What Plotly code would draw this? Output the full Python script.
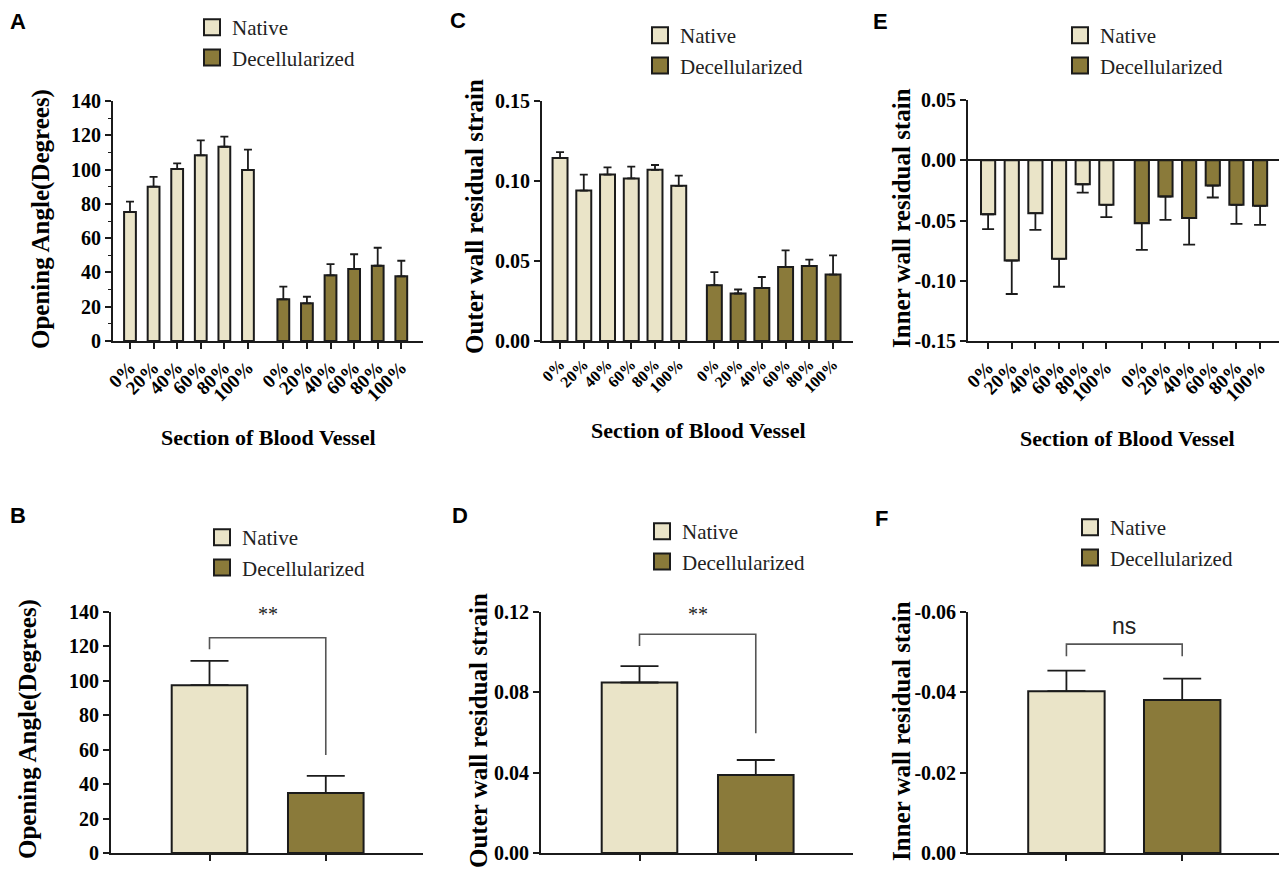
import plotly.graph_objects as go

W, H = 1281, 873
SERIF = "Liberation Serif"
SANS = "Liberation Sans"
NATIVE_FILL = "#EAE4C8"
DECELL_FILL = "#8A7A3A"
EDGE = "#1b1b1b"
BRACKET = "#555555"

# ---------------- data ----------------
sections = ["0%", "20%", "40%", "60%", "80%", "100%"]
groups = ["Native", "Decellularized"]

# A: opening angle by section (degrees)
angle_native = [75.2, 90.0, 100.3, 108.3, 113.3, 99.8]
angle_native_sem = [6.1, 5.7, 3.3, 8.7, 5.9, 11.8]
angle_decell = [24.3, 22.0, 38.3, 42.0, 43.9, 37.7]
angle_decell_sem = [7.4, 3.8, 6.6, 8.6, 10.5, 9.1]

# C: outer wall residual strain by section
outer_native = [0.1143, 0.0940, 0.1040, 0.1016, 0.1070, 0.0970]
outer_native_sem = [0.0037, 0.0100, 0.0045, 0.0074, 0.0030, 0.0063]
outer_decell = [0.0349, 0.0297, 0.0332, 0.0462, 0.0469, 0.0415]
outer_decell_sem = [0.0082, 0.0025, 0.0068, 0.0104, 0.0040, 0.0120]

# E: inner wall residual stain by section
inner_native = [-0.0448, -0.0832, -0.0439, -0.0818, -0.0199, -0.0370]
inner_native_sem = [0.0124, 0.0278, 0.0138, 0.0232, 0.0069, 0.0102]
inner_decell = [-0.0522, -0.0301, -0.0480, -0.0210, -0.0370, -0.0378]
inner_decell_sem = [0.0221, 0.0193, 0.0220, 0.0099, 0.0158, 0.0158]

# B, D, F: overall means
angle_mean = [97.5, 34.8]
angle_mean_sem = [14.1, 10.0]
outer_mean = [0.0849, 0.0389]
outer_mean_sem = [0.0081, 0.0074]
inner_mean = [-0.0403, -0.0381]
inner_mean_sem = [0.0051, 0.0053]

# significance brackets: [left leg end, bar, bar, right leg end], label
bracket_B = [118.4, 125.0, 125.0, 57.0]
label_B, label_B_y = "**", 139.0
bracket_D = [0.1031, 0.1089, 0.1089, 0.0596]
label_D, label_D_y = "**", 0.119
bracket_F = [-0.049, -0.052, -0.052, -0.049]
label_F, label_F_y = "ns", -0.0565

# tick labels
angle_ticks = [0, 20, 40, 60, 80, 100, 120, 140]
angle_ticklabels = ["0", "20", "40", "60", "80", "100", "120", "140"]
outerC_ticks = [0.0, 0.05, 0.10, 0.15]
outerC_ticklabels = ["0.00", "0.05", "0.10", "0.15"]
innerE_ticks = [-0.15, -0.10, -0.05, 0.0, 0.05]
innerE_ticklabels = ["-0.15", "-0.10", "-0.05", "0.00", "0.05"]
outerD_ticks = [0.0, 0.04, 0.08, 0.12]
outerD_ticklabels = ["0.00", "0.04", "0.08", "0.12"]
innerF_ticks = [0.0, -0.02, -0.04, -0.06]
innerF_ticklabels = ["0.00", "-0.02", "-0.04", "-0.06"]

GROUP_GAP = 1.5


def pxx(x):
    return x / W


def pxy(y):
    return 1 - y / H


x_native = list(range(len(sections)))
x_decell = [len(sections) - 1 + GROUP_GAP + i for i in range(len(sections))]
x_pos = x_native + x_decell
x_text = sections + sections
x_group = [0, 1]
FILLS = [NATIVE_FILL, DECELL_FILL]

fig = go.Figure()


def ax_suffix(n):
    return "" if n == 1 else str(n)


def add_pair(n, xs, vals, sems, down, bw, cap):
    sfx = ax_suffix(n)
    for gi, (g, x, v, s) in enumerate(zip(groups, xs, vals, sems)):
        zeros = [0] * len(s)
        fig.add_trace(go.Bar(
            x=x, y=v, width=bw, name=g,
            marker=dict(color=FILLS[gi], line=dict(color=EDGE, width=2)),
            error_y=dict(type="data", symmetric=False,
                         array=zeros if down else s,
                         arrayminus=s if down else zeros,
                         color=EDGE, thickness=1.8, width=cap),
            xaxis="x" + sfx, yaxis="y" + sfx, showlegend=False,
        ))
    # legend keys (square swatches) for this panel
    for gi, g in enumerate(groups):
        fig.add_trace(go.Scatter(
            x=[None], y=[None], mode="markers", name=g,
            marker=dict(symbol="square", size=16, color=FILLS[gi],
                        line=dict(color=EDGE, width=2)),
            xaxis="x" + sfx, yaxis="y" + sfx, legend="legend" + sfx,
            showlegend=True, hoverinfo="skip"))


# panels A, C, E (by section)
add_pair(1, [x_native, x_decell], [angle_native, angle_decell],
         [angle_native_sem, angle_decell_sem], False, 0.5, 4)
add_pair(2, [x_native, x_decell], [outer_native, outer_decell],
         [outer_native_sem, outer_decell_sem], False, 0.63, 4)
add_pair(3, [x_native, x_decell], [inner_native, inner_decell],
         [inner_native_sem, inner_decell_sem], True, 0.6, 6)
# panels B, D, F (overall)
add_pair(4, [[x_group[0]], [x_group[1]]], [[angle_mean[0]], [angle_mean[1]]],
         [[angle_mean_sem[0]], [angle_mean_sem[1]]], False, 0.65, 19)
add_pair(5, [[x_group[0]], [x_group[1]]], [[outer_mean[0]], [outer_mean[1]]],
         [[outer_mean_sem[0]], [outer_mean_sem[1]]], False, 0.65, 19)
add_pair(6, [[x_group[0]], [x_group[1]]], [[inner_mean[0]], [inner_mean[1]]],
         [[inner_mean_sem[0]], [inner_mean_sem[1]]], True, 0.66, 19)

# significance brackets
for n, br in [(4, bracket_B), (5, bracket_D), (6, bracket_F)]:
    fig.add_trace(go.Scatter(
        x=[x_group[0], x_group[0], x_group[1], x_group[1]], y=br,
        mode="lines", line=dict(color=BRACKET, width=1.6),
        showlegend=False, hoverinfo="skip",
        xaxis="x" + ax_suffix(n), yaxis="y" + ax_suffix(n)))

tick_font = dict(family=SERIF, size=20, color="black", weight="bold")
common_axis = dict(showline=True, linecolor=EDGE, linewidth=1.8, showgrid=False,
                   zeroline=False, ticks="outside", ticklen=6, tickwidth=1.6,
                   tickcolor=EDGE, automargin=False, fixedrange=True)

panels = {
    1: dict(xd=(113, 423), yd=(101, 341), xr=[-0.72, 12.42]),
    2: dict(xd=(542, 853), yd=(101, 341), xr=[-0.76, 12.34]),
    3: dict(xd=(968, 1279), yd=(100, 341), xr=[-0.85, 12.30]),
    4: dict(xd=(111, 423), yd=(612, 853), xr=[-0.847, 1.836]),
    5: dict(xd=(541, 853), yd=(612, 853), xr=[-0.847, 1.836]),
    6: dict(xd=(968, 1279), yd=(612, 853), xr=[-0.85, 1.836]),
}
x_tick_sizes = {1: 19, 2: 16, 3: 19}
y_specs = {
    1: dict(range=[0, 140], tickvals=angle_ticks, ticktext=angle_ticklabels),
    2: dict(range=[0, 0.15], tickvals=outerC_ticks, ticktext=outerC_ticklabels),
    3: dict(range=[-0.15, 0.05], tickvals=innerE_ticks, ticktext=innerE_ticklabels),
    4: dict(range=[0, 140], tickvals=angle_ticks, ticktext=angle_ticklabels),
    5: dict(range=[0, 0.12], tickvals=outerD_ticks, ticktext=outerD_ticklabels),
    6: dict(range=[0, -0.06], tickvals=innerF_ticks, ticktext=innerF_ticklabels),
}

layout = dict(width=W, height=H, margin=dict(l=0, r=0, t=0, b=0, pad=0),
              plot_bgcolor="white", paper_bgcolor="white",
              barmode="overlay", showlegend=True, hovermode=False)

for n, p in panels.items():
    sfx = ax_suffix(n)
    xa = dict(common_axis, domain=[pxx(p["xd"][0]), pxx(p["xd"][1])],
              range=p["xr"], anchor="y" + sfx)
    if n <= 3:
        xa.update(tickmode="array", tickvals=x_pos, ticktext=x_text, tickangle=-45,
                  tickfont=dict(tick_font, size=x_tick_sizes[n]))
    else:
        xa.update(tickmode="array", tickvals=x_group, showticklabels=False)
    ya = dict(common_axis, domain=[pxy(p["yd"][1]), pxy(p["yd"][0])],
              anchor="x" + sfx, tickmode="array", tickfont=tick_font, **y_specs[n])
    if n == 1:
        ya["minor"] = dict(tickmode="linear", tick0=0, dtick=10, ticks="outside",
                           ticklen=3, tickwidth=1.4, tickcolor=EDGE)
    if n == 3:
        ya.update(zeroline=True, zerolinecolor=EDGE, zerolinewidth=1.8)
    layout["xaxis" + sfx] = xa
    layout["yaxis" + sfx] = ya

# legends: (text left px, first-entry centre px)
legend_pos = {1: (232, 27), 2: (680, 35), 3: (1100, 35),
              4: (242, 537), 5: (682, 531), 6: (1110, 527)}
for n, (tx, cy) in legend_pos.items():
    layout["legend" + ax_suffix(n)] = dict(
        x=pxx(tx - 40), y=pxy(cy - 20), xanchor="left", yanchor="top",
        bgcolor="rgba(0,0,0,0)", borderwidth=0, itemsizing="trace",
        font=dict(family=SERIF, size=21, color="#222"),
        traceorder="normal")

annotations = []
# panel letters
for letter, (lx, ly) in {"A": (18, 21), "B": (18, 515), "C": (458, 20),
                         "D": (460, 515), "E": (880, 21), "F": (881, 518)}.items():
    annotations.append(dict(text=letter, x=pxx(lx), y=pxy(ly), xref="paper", yref="paper",
                            showarrow=False, xanchor="center", yanchor="middle",
                            font=dict(family=SANS, size=22, color="black", weight="bold")))
# y titles
y_titles = [("Opening Angle(Degrees)", 41, 219), ("Outer wall residual strain", 474, 217),
            ("Inner wall residual stain", 901, 218), ("Opening Angle(Degrees)", 28, 729),
            ("Outer wall residual strain", 478, 731), ("Inner wall residual stain", 901, 731)]
for t, tx, ty in y_titles:
    annotations.append(dict(text=t, x=pxx(tx), y=pxy(ty), xref="paper", yref="paper",
                            showarrow=False, textangle=-90, xanchor="center", yanchor="middle",
                            font=dict(family=SERIF, size=25, color="black", weight="bold")))
# x titles
for tx, ty in [(268, 437), (698, 430), (1127, 438)]:
    annotations.append(dict(text="Section of Blood Vessel", x=pxx(tx), y=pxy(ty),
                            xref="paper", yref="paper", showarrow=False,
                            xanchor="center", yanchor="middle",
                            font=dict(family=SERIF, size=22, color="black", weight="bold")))
# significance labels
for n, lab, ly, fam, size in [(4, label_B, label_B_y, SERIF, 20),
                              (5, label_D, label_D_y, SERIF, 20),
                              (6, label_F, label_F_y, SANS, 23)]:
    sfx = ax_suffix(n)
    annotations.append(dict(text=lab, x=(x_group[0] + x_group[1]) / 2, y=ly,
                            xref="x" + sfx, yref="y" + sfx, showarrow=False,
                            xanchor="center", yanchor="middle",
                            font=dict(family=fam, size=size, color="#222")))
layout["annotations"] = annotations

fig.update_layout(**layout)

fig.write_html("out.html", config={"displayModeBar": False},
               post_script="document.body.style.margin='0';document.body.style.overflow='hidden';")
